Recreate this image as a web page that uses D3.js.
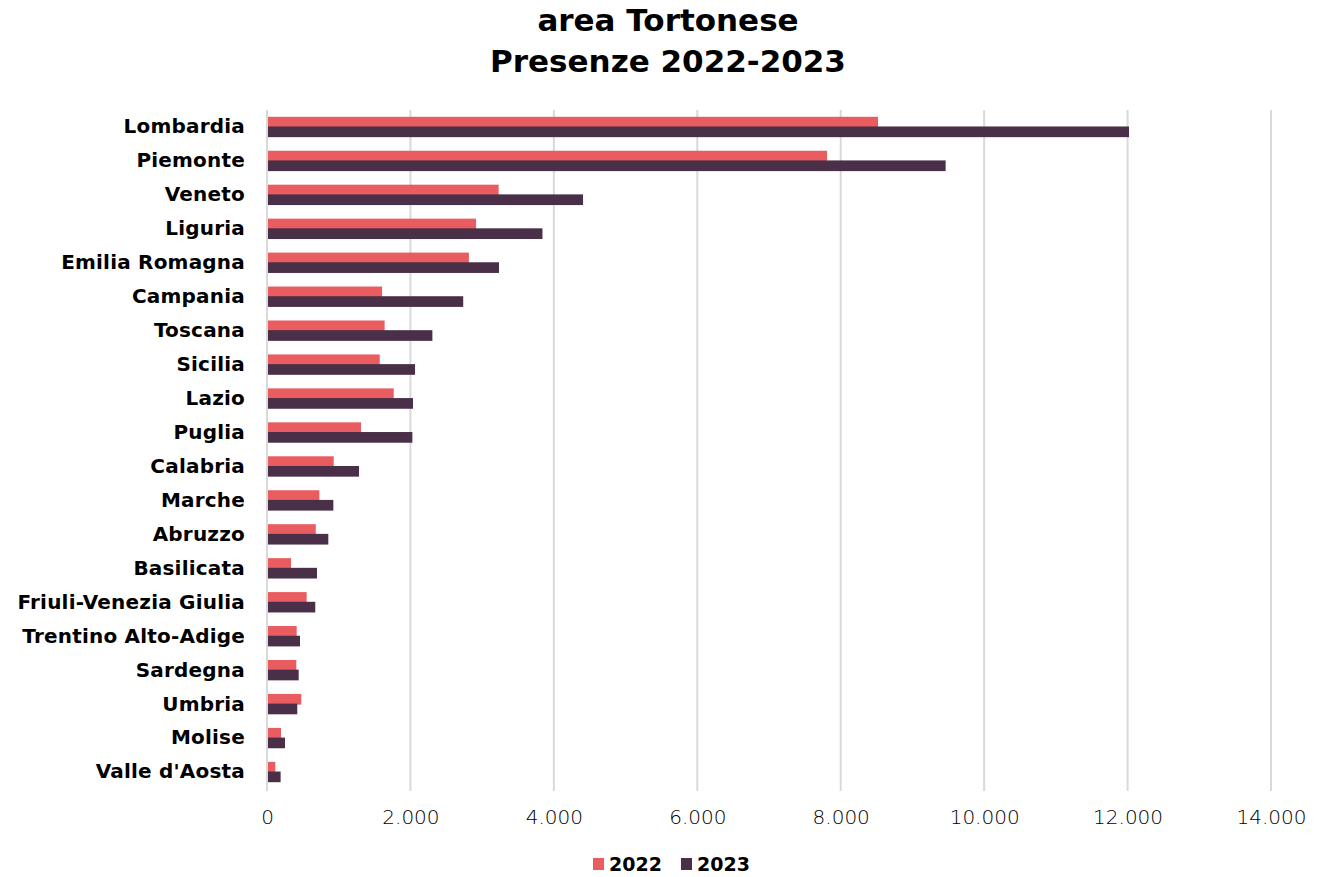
<!DOCTYPE html>
<html lang="it">
  <head>
    <meta charset="UTF-8" />
    <title>area Tortonese - Presenze 2022-2023</title>
    <style>
      body {
        margin: 0;
        background: #fff;
      }
      svg text {
        font-family: 'DejaVu Sans', 'Open Sans', sans-serif;
      }
    </style>
  </head>
  <body>
    <div id="main"></div>
    <script src="https://cdn.jsdelivr.net/npm/d3@7"></script>
    <script>
      const categories = [
        'Lombardia', 'Piemonte', 'Veneto', 'Liguria', 'Emilia Romagna',
        'Campania', 'Toscana', 'Sicilia', 'Lazio', 'Puglia', 'Calabria',
        'Marche', 'Abruzzo', 'Basilicata', 'Friuli-Venezia Giulia',
        'Trentino Alto-Adige', 'Sardegna', 'Umbria', 'Molise', "Valle d'Aosta"
      ]
      const values2022 = [
        8520, 7810, 3230, 2915, 2815, 1605, 1640, 1572, 1767, 1311, 930,
        730, 680, 335, 553, 414, 409, 478, 195, 116
      ]
      const values2023 = [
        12020, 9463, 4407, 3841, 3235, 2736, 2306, 2064, 2036, 2027, 1283,
        925, 855, 697, 673, 460, 442, 422, 251, 190
      ]
      const seriesNames = ['2022', '2023']
      const tickValues = [0, 2000, 4000, 6000, 8000, 10000, 12000, 14000]

      const [width, height] = [1332, 877]
      const color = ['#E95C5F', '#4A2F48']
      const margin = { top: 110, right: 61, bottom: 88, left: 267 }

      const svg = d3
        .select('#main')
        .append('svg')
        .attr('width', width)
        .attr('height', height)
        .attr('viewBox', `0 0 ${width} ${height}`)

      // titolo
      const title = svg
        .append('text')
        .attr('x', 668)
        .attr('text-anchor', 'middle')
        .style('font-size', '31px')
        .style('font-weight', 700)
        .attr('fill', '#000')
      title.append('tspan').attr('x', 668).attr('y', 31).text('area Tortonese')
      title.append('tspan').attr('x', 668).attr('y', 72).text('Presenze 2022-2023')

      const x = d3
        .scaleLinear()
        .domain([0, 14000])
        .range([margin.left, width - margin.right])

      const y = d3
        .scaleBand()
        .domain(categories)
        .range([margin.top, height - margin.bottom])
        .paddingInner(0.4)
        .paddingOuter(0.2)

      const fmt = v => d3.format(',')(v).replace(/,/g, '.')

      // griglia
      svg
        .append('g')
        .selectAll('line')
        .data(tickValues)
        .join('line')
        .attr('x1', d => x(d))
        .attr('x2', d => x(d))
        .attr('y1', margin.top)
        .attr('y2', height - margin.bottom + 2)
        .attr('stroke', '#d9d9d9')
        .attr('stroke-width', 2)

      // asse x
      const xAxis = svg
        .append('g')
        .attr('transform', `translate(0, ${height - margin.bottom})`)
        .call(d3.axisBottom(x).tickValues(tickValues).tickFormat(fmt).tickSize(0).tickPadding(21))
      xAxis.select('.domain').remove()
      xAxis
        .selectAll('text')
        .style('font-size', '20px')
        .style('font-weight', 200)
        .attr('fill', '#000')

      // asse y
      const yAxis = svg
        .append('g')
        .attr('transform', `translate(${margin.left}, 0)`)
        .call(d3.axisLeft(y).tickSize(0).tickPadding(22))
      yAxis.select('.domain').remove()
      yAxis
        .selectAll('text')
        .style('font-size', '20px')
        .style('font-weight', 700)
        .style('letter-spacing', '0.2px')
        .attr('fill', '#000')

      const barH = y.bandwidth() / 2 + 0.5
      const series = [values2022, values2023]

      const seriesG = svg
        .append('g')
        .selectAll('g')
        .data(series)
        .join('g')
        .attr('fill', (_, i) => color[i])

      seriesG
        .selectAll('rect')
        .data((d, i) => d.map((v, j) => ({ v, name: categories[j], s: i })))
        .join('rect')
        .attr('x', x(0) + 1)
        .attr('y', d => y(d.name) + d.s * (y.bandwidth() / 2 - 0.5))
        .attr('width', d => x(d.v) - x(0) - 1)
        .attr('height', barH)

      // legenda
      const legend = svg.append('g').attr('transform', 'translate(593, 864)')
      const items = legend
        .selectAll('g')
        .data(seriesNames)
        .join('g')
        .attr('transform', (_, i) => `translate(${i * 88}, 0)`)
      items
        .append('rect')
        .attr('x', 0)
        .attr('y', -6)
        .attr('width', 11)
        .attr('height', 12)
        .attr('fill', (_, i) => color[i])
      items
        .append('text')
        .attr('x', 16)
        .attr('dy', '0.35em')
        .style('font-size', '19px')
        .style('font-weight', 700)
        .text(d => d)
    </script>
  </body>
</html>
